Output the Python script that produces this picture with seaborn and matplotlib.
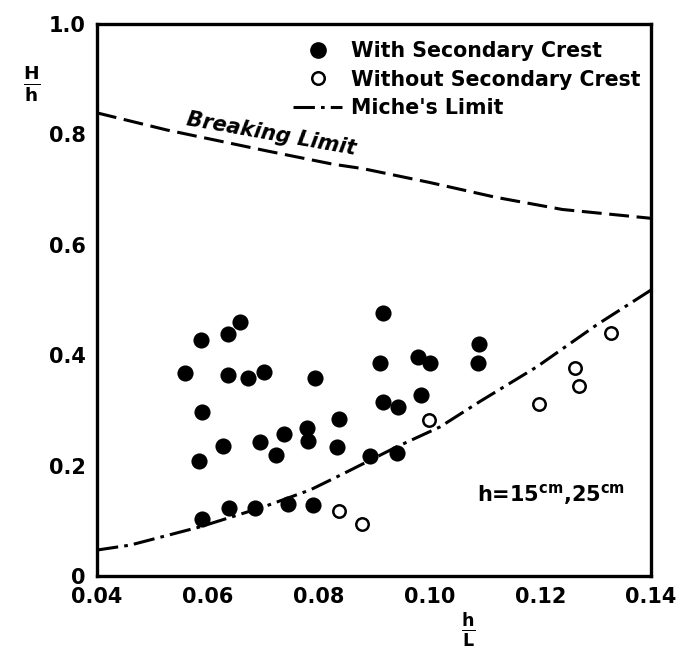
import numpy as np
import pandas as pd
import matplotlib
matplotlib.use("Agg")
import matplotlib.pyplot as plt
from matplotlib.lines import Line2D
import seaborn as sns

# Measured wave heights, relative depth h/L vs. H/h
with_crest_x = [0.0658, 0.0636, 0.0588, 0.0558, 0.0636, 0.0673, 0.0701, 0.0794,
                0.0590, 0.0779, 0.0780, 0.0738, 0.0694, 0.0627, 0.0723, 0.0584,
                0.0916, 0.1090, 0.1087, 0.0980, 0.1001, 0.0911, 0.0984, 0.0917,
                0.0943, 0.0836, 0.0833, 0.0893, 0.0942, 0.0590, 0.0638, 0.0685,
                0.0744, 0.0789]
with_crest_y = [0.460, 0.438, 0.428, 0.367, 0.364, 0.358, 0.369, 0.358,
                0.297, 0.268, 0.245, 0.257, 0.243, 0.235, 0.220, 0.208,
                0.476, 0.420, 0.385, 0.397, 0.386, 0.385, 0.327, 0.316,
                0.307, 0.284, 0.234, 0.217, 0.223, 0.103, 0.124, 0.123,
                0.130, 0.129]

without_crest_x = [0.0836, 0.0879, 0.1000, 0.1198, 0.1263, 0.1270, 0.1328]
without_crest_y = [0.118, 0.094, 0.283, 0.312, 0.377, 0.345, 0.441]

# Limit curves
breaking_x = [0.040, 0.0526, 0.0707, 0.0826, 0.088, 0.100, 0.112, 0.124, 0.140]
breaking_y = [0.839, 0.808, 0.770, 0.746, 0.738, 0.713, 0.686, 0.664, 0.648]

miche_x = [0.040, 0.046, 0.0586, 0.070, 0.0785, 0.0844, 0.0941, 0.1019,
           0.1091, 0.1194, 0.1302, 0.140]
miche_y = [0.047, 0.056, 0.089, 0.125, 0.156, 0.185, 0.234, 0.270,
           0.316, 0.379, 0.455, 0.518]

x_ticks = [0.04, 0.06, 0.08, 0.10, 0.12, 0.14]
x_tick_labels = ["0.04", "0.06", "0.08", "0.10", "0.12", "0.14"]
y_ticks = [0.0, 0.2, 0.4, 0.6, 0.8, 1.0]
y_tick_labels = ["0", "0.2", "0.4", "0.6", "0.8", "1.0"]

sns.set_theme(style="white")
plt.rcParams["font.family"] = ["DejaVu Sans"]
plt.rcParams["font.weight"] = "bold"
plt.rcParams["mathtext.default"] = "regular"
plt.rcParams["text.color"] = "black"
plt.rcParams["axes.labelcolor"] = "black"

fig = plt.figure(figsize=(6.77, 6.56), dpi=100)
ax = fig.add_axes([97 / 677, 1 - 576 / 656, 554 / 677, 552 / 656])

pts_with = pd.DataFrame({"x": with_crest_x, "y": with_crest_y})
pts_without = pd.DataFrame({"x": without_crest_x, "y": without_crest_y})
brk = pd.DataFrame({"x": breaking_x, "y": breaking_y})
mic = pd.DataFrame({"x": miche_x, "y": miche_y})

sns.lineplot(data=brk, x="x", y="y", ax=ax, color="black", lw=2.2,
             linestyle=(0, (6.5, 2.5)), estimator=None)
sns.lineplot(data=mic, x="x", y="y", ax=ax, color="black", lw=2.2,
             linestyle=(0, (7, 2, 1.2, 2)), estimator=None)
sns.scatterplot(data=pts_with, x="x", y="y", ax=ax, color="black", s=135,
                edgecolor="black", linewidth=0, zorder=3)
sns.scatterplot(data=pts_without, x="x", y="y", ax=ax, facecolor="white",
                edgecolor="black", s=80, linewidth=1.8, zorder=3)

ax.set_xlim(0.04, 0.14)
ax.set_ylim(0.0, 1.0)
ax.set_xticks(x_ticks)
ax.set_xticklabels(x_tick_labels)
ax.set_yticks(y_ticks)
ax.set_yticklabels(y_tick_labels)
ax.tick_params(axis="both", direction="in", length=8, width=2,
               labelsize=15, colors="black", pad=8)
for lbl in ax.get_xticklabels() + ax.get_yticklabels():
    lbl.set_fontweight("bold")
for sp in ax.spines.values():
    sp.set_linewidth(2.4)
    sp.set_color("black")

ax.set_xlabel(r"$\frac{\mathbf{h}}{\mathbf{L}}$", fontsize=18)
ax.xaxis.set_label_coords(0.67, -0.063)
ax.set_ylabel(r"$\frac{\mathbf{H}}{\mathbf{h}}$", fontsize=19, rotation=0)
ax.yaxis.set_label_coords(-0.118, 0.855)

ax.text(0.0715, 0.800, "Breaking Limit", fontsize=15, style="italic",
        fontweight="bold", rotation=-10, ha="center", va="center")
ax.text(0.1086, 0.147, r"h=15$^{\mathrm{cm}}$,25$^{\mathrm{cm}}$",
        fontsize=15, fontweight="bold", ha="left", va="center")

handles = [
    Line2D([], [], marker="o", linestyle="none", markerfacecolor="black",
           markeredgecolor="black", markersize=11),
    Line2D([], [], marker="o", linestyle="none", markerfacecolor="white",
           markeredgecolor="black", markeredgewidth=1.8, markersize=9),
    Line2D([], [], color="black", lw=2.2, linestyle=(0, (7, 2, 1.2, 2))),
]
labels = ["With Secondary Crest", "Without Secondary Crest", "Miche's Limit"]
leg = ax.legend(handles, labels, loc="upper left",
                bbox_to_anchor=((293 - 97) / 554, (576 - 41) / 552),
                frameon=False, handlelength=2.4,
                handletextpad=0.4, labelspacing=0.42, borderpad=0,
                borderaxespad=0, prop={"weight": "bold", "size": 14.8})
for t in leg.get_texts():
    t.set_color("black")

fig.savefig("out.png", dpi=100)
